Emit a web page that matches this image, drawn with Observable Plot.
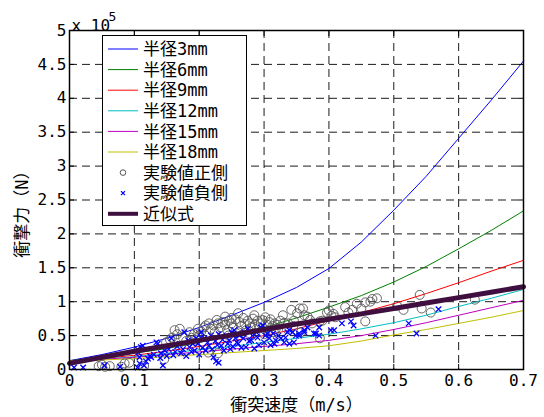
<!DOCTYPE html>
<html>
<head>
<meta charset="utf-8">
<script src="https://cdn.jsdelivr.net/npm/d3@7"></script>
<script src="https://cdn.jsdelivr.net/npm/@observablehq/plot@0.6"></script>
<style>
  html, body { margin: 0; padding: 0; background: #fff; }
</style>
</head>
<body>
<div id="chart"></div>
<script>
// ---- data (force in units of 1e5 N) ----
const xTicks = [0, 0.1, 0.2, 0.3, 0.4, 0.5, 0.6, 0.7];
const yTicks = [0, 0.5, 1, 1.5, 2, 2.5, 3, 3.5, 4, 4.5, 5];
const seriesNames = ["半径3mm", "半径6mm", "半径9mm", "半径12mm", "半径15mm", "半径18mm"];
const seriesColors = ["#0000ff", "#008000", "#ff0000", "#00bfbf", "#bf00bf", "#bfbf00"];
const curveX = [0, 0.05, 0.1, 0.15, 0.2, 0.25, 0.3, 0.35, 0.4, 0.45, 0.5, 0.55, 0.6, 0.65, 0.7];
const r3  = [0.13, 0.22, 0.33, 0.46, 0.62, 0.80, 0.99, 1.21, 1.49, 1.88, 2.35, 2.85, 3.41, 3.97, 4.55];
const r6  = [0.13, 0.18, 0.24, 0.31, 0.40, 0.50, 0.62, 0.76, 0.92, 1.09, 1.29, 1.52, 1.78, 2.05, 2.34];
const r9  = [0.12, 0.16, 0.21, 0.27, 0.34, 0.42, 0.50, 0.60, 0.72, 0.84, 0.97, 1.12, 1.28, 1.45, 1.61];
const r12 = [0.12, 0.15, 0.19, 0.24, 0.29, 0.34, 0.40, 0.46, 0.52, 0.60, 0.69, 0.80, 0.93, 1.05, 1.18];
const r15 = [0.12, 0.15, 0.18, 0.22, 0.26, 0.30, 0.34, 0.38, 0.43, 0.50, 0.59, 0.69, 0.80, 0.91, 1.02];
const r18 = [0.12, 0.14, 0.16, 0.19, 0.22, 0.25, 0.28, 0.31, 0.35, 0.42, 0.51, 0.59, 0.68, 0.77, 0.87];
const fitY = [0.09, 0.18, 0.27, 0.35, 0.43, 0.51, 0.59, 0.67, 0.74, 0.82, 0.90, 0.98, 1.06, 1.14, 1.22];
const fitName = "近似式";

const posName = "実験値正側";
const posX = [0.045,0.05,0.055,0.062,0.08,0.085,0.092,0.115,0.146,
  0.149,0.155,0.158,0.162,0.166,0.17,0.175,0.18,0.185,0.188,0.192,0.195,0.198,0.2,0.203,
  0.207,0.21,0.21,0.214,0.215,0.218,0.222,0.224,0.227,0.229,0.229,0.233,0.236,0.24,0.24,0.243,0.245,0.246,0.25,0.25,0.252,0.256,
  0.26,0.26,0.262,0.265,0.268,0.27,0.272,0.275,0.278,0.28,0.28,0.283,0.285,0.286,0.29,0.292,0.295,0.298,0.3,0.3,0.302,0.305,
  0.308,0.31,0.313,0.315,0.316,0.318,0.321,0.325,0.329,0.331,0.335,0.337,0.342,0.345,0.346,0.351,0.355,0.357,0.36,0.362,0.367,
  0.371,0.374,0.386,0.386,0.39,0.397,0.4,0.404,0.407,0.41,0.425,0.43,0.436,0.443,0.45,0.456,0.456,0.464,0.467,0.474,
  0.505,0.515,0.54,0.543,0.557,0.625];
const posY = [0.05,0.07,0.04,0.05,0.04,0.09,0.10,0.05,0.15,
  0.40,0.44,0.47,0.58,0.52,0.60,0.47,0.42,0.55,0.47,0.52,0.44,0.60,0.50,0.56,
  0.62,0.65,0.50,0.25,0.68,0.60,0.65,0.55,0.73,0.68,0.24,0.62,0.70,0.66,0.78,0.58,0.50,0.72,0.68,0.76,0.62,0.74,
  0.83,0.55,0.70,0.64,0.76,0.67,0.58,0.72,0.68,0.62,0.50,0.75,0.80,0.66,0.72,0.62,0.68,0.73,0.60,0.52,0.77,0.66,
  0.70,0.74,0.64,0.55,0.68,0.60,0.66,0.72,0.80,0.69,0.60,0.68,0.88,0.64,0.72,0.83,0.90,0.55,0.90,0.80,0.78,
  0.73,0.68,0.46,0.71,0.72,0.84,0.87,0.79,0.82,0.77,0.92,0.84,0.88,0.97,0.90,0.99,0.71,1.00,1.04,1.05,
  0.94,0.88,1.10,0.90,0.84,1.03];

const negName = "実験値負側";
const negX = [0.007,0.021,0.054,0.078,0.105,0.105,0.106,0.108,0.108,0.11,0.113,0.115,0.118,0.121,0.124,0.126,0.13,0.134,0.136,
  0.14,0.141,0.144,0.147,0.15,0.153,0.157,0.16,0.163,0.166,0.17,0.172,0.175,0.177,0.18,0.183,0.185,0.188,0.19,0.193,0.195,0.198,
  0.2,0.203,0.203,0.205,0.208,0.21,0.213,0.215,0.218,0.22,0.222,0.225,0.226,0.228,0.23,0.23,0.234,0.236,0.238,0.242,0.244,0.246,
  0.248,0.25,0.252,0.254,0.256,0.258,0.26,0.262,0.265,0.268,0.27,0.272,0.275,0.277,0.28,0.282,0.285,0.288,0.29,0.292,0.295,0.298,
  0.3,0.302,0.305,0.308,0.31,0.314,0.316,0.318,0.322,0.326,0.331,0.333,0.336,0.339,0.339,0.344,0.346,0.349,0.354,0.354,0.362,
  0.362,0.367,0.377,0.38,0.385,0.385,0.403,0.408,0.42,0.434,0.438,0.472,0.523,0.535,0.569];
const negY = [0.03,0.03,0.06,0.04,0.03,0.30,0.25,0.18,0.09,0.33,0.35,0.06,0.12,0.16,0.20,0.18,0.22,0.40,0.38,
  0.17,0.24,0.06,0.28,0.20,0.30,0.46,0.21,0.26,0.34,0.38,0.24,0.30,0.55,0.20,0.43,0.33,0.26,0.38,0.28,0.46,0.38,
  0.22,0.47,0.55,0.32,0.46,0.28,0.40,0.35,0.50,0.30,0.18,0.42,0.12,0.36,0.52,0.10,0.35,0.44,0.28,0.50,0.38,0.43,
  0.30,0.55,0.34,0.58,0.46,0.40,0.38,0.50,0.32,0.46,0.55,0.33,0.60,0.42,0.43,0.50,0.31,0.55,0.47,0.36,0.62,0.65,
  0.40,0.50,0.53,0.46,0.36,0.53,0.38,0.43,0.50,0.46,0.40,0.47,0.55,0.38,0.58,0.55,0.40,0.50,0.50,0.53,0.55,
  0.58,0.62,0.53,0.53,0.50,0.62,0.58,0.58,0.68,0.71,0.65,0.50,0.68,0.53,0.89];

// ---- build tables ----
const curveSets = [r3, r6, r9, r12, r15, r18];
const curves = curveSets.flatMap((ys, i) => curveX.map((x, j) => ({x, y: ys[j], s: seriesNames[i]})));
const fit = curveX.map((x, j) => ({x, y: fitY[j]}));
const pos = posX.map((x, i) => ({x, y: posY[i]}));
const neg = negX.map((x, i) => ({x, y: negY[i]}));

const monoFont = '"DejaVu Sans Mono", "Noto Sans CJK JP", monospace';
const fitColor = "#3f0f40";

const chart = Plot.plot({
  width: 544,
  height: 417,
  marginLeft: 69,
  marginRight: 21,
  marginTop: 30,
  marginBottom: 48,
  style: {fontFamily: monoFont, fontSize: "16px", background: "#fff", color: "#000"},
  x: {domain: [0, 0.7]},
  y: {domain: [0, 5]},
  color: {domain: seriesNames, range: seriesColors},
  marks: [
    Plot.gridX(xTicks.slice(1, -1), {stroke: "#000", strokeOpacity: 1, strokeWidth: 0.9, strokeDasharray: "8,5"}),
    Plot.gridY(yTicks.slice(1, -1), {stroke: "#000", strokeOpacity: 1, strokeWidth: 0.9, strokeDasharray: "8,5"}),
    Plot.line(curves, {x: "x", y: "y", z: "s", stroke: "s", strokeWidth: 1}),
    Plot.dot(pos, {x: "x", y: "y", r: 4.5, stroke: "#555", strokeWidth: 0.9, fill: "none"}),
    Plot.dot(neg, {x: "x", y: "y", r: 2.6, symbol: "times", stroke: "#0000ff", strokeWidth: 1.3}),
    Plot.line(fit, {x: "x", y: "y", stroke: fitColor, strokeWidth: 5}),
    Plot.axisX(xTicks, {anchor: "bottom", tickSize: 0, tickPadding: 5, tickFormat: d => String(d), label: null, fontSize: 16}),
    Plot.axisY(yTicks, {anchor: "left", tickSize: 0, tickPadding: 3, tickFormat: d => String(d), label: null, fontSize: 16}),
    Plot.axisX(xTicks, {anchor: "bottom", tickSize: -5, text: null, label: null, strokeWidth: 1}),
    Plot.axisX(xTicks, {anchor: "top", tickSize: -5, text: null, label: null, strokeWidth: 1}),
    Plot.axisY(yTicks, {anchor: "left", tickSize: -5, text: null, label: null, strokeWidth: 1}),
    Plot.axisY(yTicks, {anchor: "right", tickSize: -5, text: null, label: null, strokeWidth: 1}),
    Plot.frame({stroke: "#000", strokeWidth: 1.5}),
    Plot.text(["衝撃力（N）"], {frameAnchor: "left", textAnchor: "middle", rotate: -90, dx: -47, dy: 10, lineAnchor: "middle", fontSize: 17, fontFamily: monoFont}),
    Plot.text(["衝突速度（m/s）"], {frameAnchor: "bottom", textAnchor: "middle", dy: 36, lineAnchor: "middle", fontSize: 17, fontFamily: monoFont}),
    Plot.text(["x 10"], {frameAnchor: "top-left", textAnchor: "start", dx: 2, dy: -11, fontSize: 16, fontFamily: monoFont}),
    Plot.text(["5"], {frameAnchor: "top-left", textAnchor: "start", dx: 39, dy: -19, fontSize: 13, fontFamily: monoFont})
  ]
});

// ---- legend inside the plot (top-left) ----
const svg = d3.select(chart);
const lg = svg.append("g").attr("font-family", monoFont).attr("font-size", 17).attr("text-anchor", "start");
lg.append("rect").attr("x", 102.5).attr("y", 35.5).attr("width", 144).attr("height", 190)
  .attr("fill", "#fff").attr("stroke", "#000").attr("stroke-width", 1);
const legendItems = seriesNames.map((n, i) => ({name: n, kind: "line", color: seriesColors[i], w: 1}))
  .concat([{name: posName, kind: "circle"}, {name: negName, kind: "x"}, {name: fitName, kind: "line", color: fitColor, w: 4}]);
legendItems.forEach((it, i) => {
  const cy = 49 + i * 20.6;
  if (it.kind === "line") {
    lg.append("line").attr("x1", 108).attr("x2", 138).attr("y1", cy).attr("y2", cy)
      .attr("stroke", it.color).attr("stroke-width", it.w);
  } else if (it.kind === "circle") {
    lg.append("circle").attr("cx", 123).attr("cy", cy).attr("r", 2.8).attr("fill", "none").attr("stroke", "#555");
  } else {
    lg.append("path").attr("d", `M${121},${cy-2}L${125},${cy+2}M${121},${cy+2}L${125},${cy-2}`)
      .attr("stroke", "#0000ff").attr("stroke-width", 1.2);
  }
  lg.append("text").attr("x", 143).attr("y", cy).attr("dy", "0.36em").attr("text-anchor", "start")
    .attr("fill", "#000").text(it.name);
});

document.getElementById("chart").appendChild(chart);
</script>
</body>
</html>
